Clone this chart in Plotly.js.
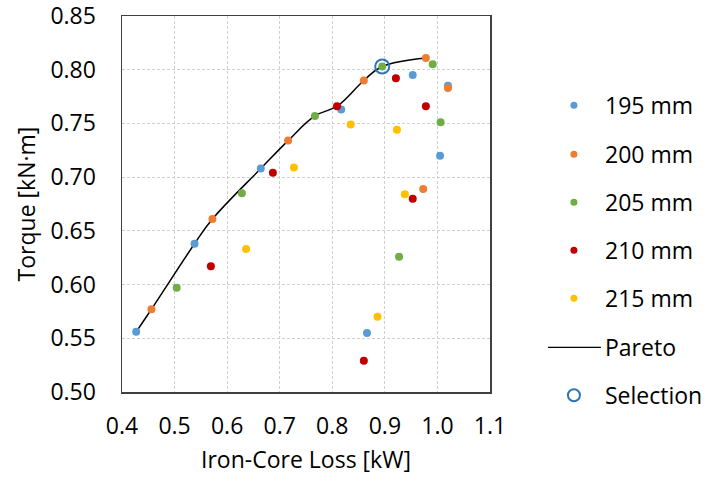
<!DOCTYPE html>
<html>
<head>
<meta charset="utf-8">
<script src="https://cdn.plot.ly/plotly-3.0.1.min.js"></script>
<style>html,body{margin:0;padding:0;background:#fff}#chart{width:707px;height:483px}</style>
</head>
<body>
<div id="chart"></div>
<script>
// ---- data ----
const seriesNames = ["195 mm", "200 mm", "205 mm", "210 mm", "215 mm"];
const x195 = [0.427, 0.538, 0.664, 0.817, 0.953, 1.020, 1.005, 0.866];
const y195 = [0.556, 0.638, 0.708, 0.763, 0.795, 0.785, 0.720, 0.555];
const x200 = [0.456, 0.572, 0.716, 0.860, 0.978, 1.020, 0.973];
const y200 = [0.577, 0.661, 0.734, 0.790, 0.811, 0.783, 0.689];
const x205 = [0.504, 0.628, 0.767, 0.895, 0.991, 1.006, 0.927];
const y205 = [0.597, 0.685, 0.757, 0.803, 0.805, 0.751, 0.626];
const x210 = [0.569, 0.687, 0.809, 0.921, 0.978, 0.953, 0.860];
const y210 = [0.617, 0.704, 0.766, 0.792, 0.766, 0.680, 0.529];
const x215 = [0.636, 0.727, 0.835, 0.923, 0.938, 0.886];
const y215 = [0.633, 0.709, 0.749, 0.744, 0.684, 0.570];
const paretoX = [0.427, 0.456, 0.538, 0.572, 0.664, 0.716, 0.767, 0.809, 0.860, 0.895, 0.978];
const paretoY = [0.556, 0.577, 0.638, 0.661, 0.708, 0.734, 0.757, 0.766, 0.790, 0.803, 0.811];
const selX = [0.895];
const selY = [0.803];
const xTicks = [0.4, 0.5, 0.6, 0.7, 0.8, 0.9, 1.0, 1.1];
const yTicks = [0.50, 0.55, 0.60, 0.65, 0.70, 0.75, 0.80, 0.85];
const legendNames = ["195 mm", "200 mm", "205 mm", "210 mm", "215 mm", "Pareto", "Selection"];

// ---- styles ----
const colors = ["#5b9bd5", "#ed7d31", "#70ad47", "#c00000", "#ffc000"];
const selColor = "#2e75b6";
const FONT = "Open Sans, Noto Sans, sans-serif";
const FS = 23;
const xs = [x195, x200, x205, x210, x215];
const ys = [y195, y200, y205, y210, y215];

const traces = [];
traces.push({x: paretoX, y: paretoY, mode: "lines", name: "Pareto",
  line: {color: "#000", width: 1.5, shape: "spline", smoothing: 1.1}, hoverinfo: "x+y"});
for (let i = 0; i < 5; i++) {
  traces.push({x: xs[i], y: ys[i], mode: "markers", name: seriesNames[i],
    marker: {color: colors[i], size: 8}});
}
traces.push({x: selX, y: selY, mode: "markers", name: "Selection",
  marker: {symbol: "circle-open", color: selColor, size: 14, line: {width: 2, color: selColor}}});

// manual legend
const W = 707, H = 483, L = 121.7, R = 490, T = 15.8, B = 391.7;
const px2x = p => (p - L) / (R - L);
const py2y = p => (B - p) / (B - T);
const rowsY = [105, 154, 202, 250, 298, 347, 395];
const shapes = [], annotations = [];
for (let i = 0; i < legendNames.length; i++) {
  const yy = py2y(rowsY[i]);
  if (i < 5) {
    shapes.push({type: "circle", xref: "paper", yref: "paper", xsizemode: "pixel", ysizemode: "pixel",
      xanchor: px2x(574), yanchor: yy, x0: -3.5, x1: 3.5, y0: -3.5, y1: 3.5,
      fillcolor: colors[i], line: {width: 0}});
  } else if (i === 5) {
    shapes.push({type: "line", xref: "paper", yref: "paper", x0: px2x(548), x1: px2x(601), y0: yy, y1: yy,
      line: {color: "#000", width: 1.3}});
  } else {
    shapes.push({type: "circle", xref: "paper", yref: "paper", xsizemode: "pixel", ysizemode: "pixel",
      xanchor: px2x(574), yanchor: yy, x0: -6, x1: 6, y0: -6, y1: 6,
      fillcolor: "rgba(0,0,0,0)", line: {width: 2, color: selColor}});
  }
  annotations.push({xref: "paper", yref: "paper", x: px2x(603), y: yy, xanchor: "left", yanchor: "middle",
    text: legendNames[i], showarrow: false, font: {family: FONT, size: FS, color: "#000"}});
}

const axisCommon = {
  showline: true, mirror: true, linecolor: "#404040", linewidth: 1.5,
  showgrid: true, gridcolor: "#d0d0d0", griddash: "3px,2px", gridwidth: 1,
  zeroline: false, ticks: "", tickfont: {family: FONT, size: FS, color: "#000"},
  ticklabeloverflow: "allow", automargin: false
};

const layout = {
  width: W, height: H,
  margin: {l: L, r: W - R, t: T, b: H - B, pad: 0},
  paper_bgcolor: "#fff", plot_bgcolor: "#fff",
  showlegend: false,
  font: {family: FONT, color: "#000"},
  xaxis: Object.assign({}, axisCommon, {range: [0.4, 1.1], tickvals: xTicks,
    ticktext: xTicks.map(v => v.toFixed(1)), ticklabelstandoff: 13,
    title: {text: "Iron-Core Loss [kW]", font: {family: FONT, size: FS, color: "#000"}, standoff: 12}}),
  yaxis: Object.assign({}, axisCommon, {range: [0.5, 0.85], tickvals: yTicks,
    ticktext: yTicks.map(v => v.toFixed(2)), ticklabelstandoff: 20,
    title: {text: "Torque [kN·m]", font: {family: FONT, size: FS, color: "#000"}, standoff: 8}}),
  shapes: shapes,
  annotations: annotations
};

Plotly.newPlot("chart", traces, layout, {displayModeBar: false, staticPlot: true});
</script>
</body>
</html>
